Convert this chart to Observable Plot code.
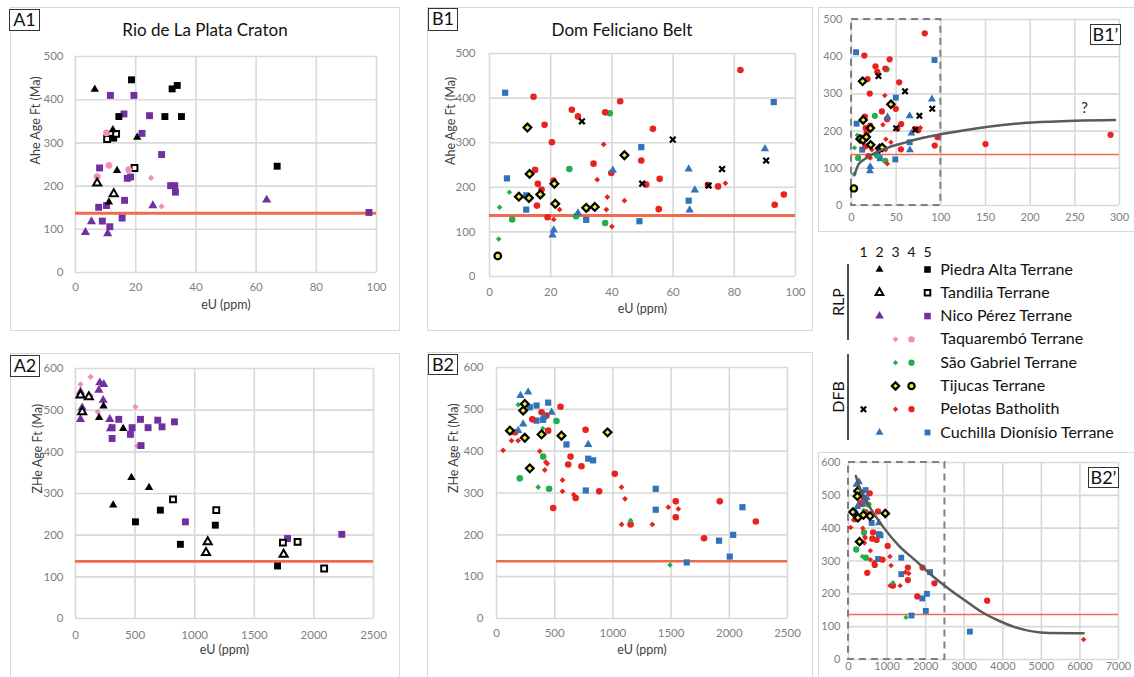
<!DOCTYPE html>
<html><head><meta charset="utf-8">
<script src="https://cdn.jsdelivr.net/npm/d3@7"></script>
<script src="https://cdn.jsdelivr.net/npm/@observablehq/plot@0.6"></script>
<style>
body{margin:0;background:#fff;font-family:Lato,"Open Sans",sans-serif;}
#root{position:relative;width:1134px;height:677px;overflow:hidden;background:#fff;}
.panel{position:absolute;border:1px solid #d9d9d9;box-sizing:border-box;}
.chart{position:absolute;}
.chart svg{overflow:visible;}
.lab{position:absolute;border:1px solid #333;background:#fff;font-size:18px;line-height:19px;box-sizing:border-box;text-align:center;color:#111;}
.title{position:absolute;font-size:17px;color:#111;transform:translateX(-50%);white-space:nowrap;}
</style></head>
<body><div id="root"></div>
<script>
// ---------- reference lines / ticks ----------
const REF_AGE = 137;
const tick100 = [0,20,40,60,80,100];
const tick500 = [0,100,200,300,400,500];
const tick600 = [0,100,200,300,400,500,600];
const tick2500 = [0,500,1000,1500,2000,2500];
const tick300 = [0,50,100,150,200,250,300];
const tick7000 = [0,1000,2000,3000,4000,5000,6000,7000];

// ---------- A1: Rio de La Plata Craton, AHe age vs eU ----------
const A1_PA_sq = [[18.6,446],[32.1,425],[33.8,433],[29.7,361],[35.2,361],[14.4,361],[12.7,311],[67,246]];
const A1_PA_tri = [[6.4,424],[12.4,330],[20.5,313],[13.8,236],[11.1,163]];
const A1_TA_sq = [[10.5,309],[13.5,321],[19.6,242]];
const A1_TA_tri = [[7.2,207],[12.7,182]];
const A1_NP_sq = [[11.6,410],[19.4,410],[16.1,367],[24.6,363],[22.1,322],[8,242],[28.6,273],[17.2,218],[18.3,221],[31.6,201],[33,201],[33.2,186],[16.3,167],[7.7,151],[10.3,155],[8.9,119],[11.4,106],[15.5,126],[97.5,139]];
const A1_NP_tri = [[3.3,93],[5.3,118],[10.7,90],[25.7,155],[63.5,168]];
const A1_TQ_dia = [[25.1,219],[28.6,153]];
const A1_TQ_cir = [[10.3,323],[11.1,248],[7.2,222],[17.7,238]];

// ---------- A2: Rio de La Plata Craton, ZHe age vs eU ----------
const A2_PA_sq = [[503,232],[712,260],[880,178],[1173,224],[1695,126]];
const A2_PA_tri = [[235,510],[198,482],[400,456],[316,272],[469,338],[617,314]];
const A2_TA_sq = [[818,286],[1181,260],[1740,182],[1863,184],[2086,120]];
const A2_TA_tri = [[42,536],[112,532],[56,496],[1109,184],[1095,158],[1746,154]];
const A2_NP_sq = [[363,478],[307,458],[307,432],[475,458],[461,442],[545,478],[609,458],[690,476],[726,460],[830,472],[550,415],[922,232],[1779,192],[2234,202]];
const A2_NP_tri = [[42,544],[56,506],[42,478],[196,548],[204,566],[237,562],[232,524],[288,478],[293,456]];
const A2_TQ_dia = [[42,562],[126,580],[131,534],[187,496],[503,508],[517,414]];

// ---------- B1: Dom Feliciano Belt, AHe age vs eU ----------
const B1_PB_cir = [[14.4,403],[42.7,393],[82,463],[26.9,374],[28.9,359],[37.8,368],[18,340],[53.4,331],[20.4,301],[14.9,239],[15.8,208],[17,195],[20.9,215],[34,253],[49.6,260],[39.8,232],[51.2,206],[55.6,219],[71.4,205],[74.7,202],[96.2,184],[93.2,161],[55.3,151],[15.5,159],[19,133],[31.8,152]];
const B1_PB_dia = [[35.2,217],[37.3,296],[38.5,178],[38.2,150],[40,112],[44.1,170],[21,128],[22.9,150],[77.1,209]];
const B1_PB_x = [[30.2,348],[59.9,307],[76,241],[90.4,260],[49.9,208],[71.6,204]];
const B1_SG_cir = [[26.1,241],[7.4,128],[28.3,135],[37.8,120],[39.3,366]];
const B1_SG_dia = [[6.5,189],[3.3,155],[3.0,84]];
const B1_TJ_dia = [[12.4,334],[13.1,230],[9.6,179],[12.9,176],[16.6,184],[21.2,208],[21.5,163],[31.6,154],[34.4,156],[44.1,272]];
const B1_TJ_cir = [[2.7,46]];
const B1_CD_sq = [[5.1,412],[5.7,220],[12,150],[12,182],[31.6,127],[49,124],[49.6,290],[65.1,170],[92.9,391]];
const B1_CD_tri = [[21,104],[20.6,93],[40.3,238],[28.9,142],[65.1,241],[67.1,194],[65.4,149],[90,286]];
// extra points only visible in B1' (wider eU range), trend curve and its note
const B1p_PB_cir = [[150,165],[290,190]];
const B1p_curve = [[3.7,84],[8,111],[15,125],[27,142],[40,155],[60,169],[80,182],[101,192],[153,212],[202,223],[250,228],[295,230]];
const B1p_box = [0,100,0,500];
const B1p_note = [[261,262,"?"]];

// ---------- B2: Dom Feliciano Belt, ZHe age vs eU ----------
const B2_PB_cir = [[550,506],[765,451],[444,449],[387,493],[430,485],[307,476],[636,387],[616,368],[730,364],[1016,346],[882,304],[680,288],[487,264],[1918,280],[2228,232],[1783,192],[1540,280],[1540,242],[135,446],[160,445],[1152,225]];
const B2_PB_dia = [[57,402],[129,425],[186,425],[372,400],[415,355],[436,370],[567,331],[567,304],[664,296],[1074,314],[1104,286],[1075,225],[1339,225],[1476,266],[1562,262],[424,374]];
const B2_SG_cir = [[200,335],[452,310],[515,472],[401,387]];
const B2_SG_dia = [[186,511],[358,314],[1491,128],[1152,234],[398,454]];
const B2_TJ_dia = [[115,449],[243,432],[286,359],[387,440],[558,437],[954,445],[243,513],[229,497]];
const B2_CD_sq = [[444,516],[344,509],[286,505],[344,473],[401,475],[601,416],[788,382],[830,378],[767,306],[1368,310],[1368,260],[1634,134],[1912,186],[2033,200],[2004,148],[2113,266]];
const B2_CD_tri = [[206,533],[272,541],[229,465],[186,449],[473,493],[407,482],[788,416]];
const B2p_PB_cir = [[3595,179]];
const B2p_CD_sq = [[3147,85]];
const B2p_PB_dia = [[6095,61]];
const B2p_curve = [[190,559],[300,520],[534,468],[879,407],[1310,346],[1741,301],[2172,255],[2603,215],[3034,179],[3465,144],[3896,118],[4327,98],[5189,81],[6095,80]];
const B2p_box = [0,2500,0,600];

// ---------- legend ----------
const legendCols = [1,2,3,4,5];
const legendRows = ["Piedra Alta Terrane","Tandilia Terrane","Nico Pérez Terrane","Taquarembó Terrane","São Gabriel Terrane","Tijucas Terrane","Pelotas Batholith","Cuchilla Dionísio Terrane"];
const legendEntries = [
  [0,2,"PA_tri"],[0,5,"PA_sq"],
  [1,2,"TA_tri"],[1,5,"TA_sq"],
  [2,2,"NP_tri"],[2,5,"NP_sq"],
  [3,3,"TQ_dia"],[3,4,"TQ_cir"],
  [4,3,"SG_dia"],[4,4,"SG_cir"],
  [5,3,"TJ_dia"],[5,4,"TJ_cir"],
  [6,1,"PB_x"],[6,3,"PB_dia"],[6,4,"PB_cir"],
  [7,2,"CD_tri"],[7,5,"CD_sq"]
];

// ---------- styles ----------
const C = {black:"#000", purple:"#7030A0", pink:"#F08DB9", green:"#22AE4A", yellow:"#F3EC3A", red:"#E8231F", blue:"#3073B8"};
const STYLE = {
  PA_sq:{symbol:"square", fill:C.black, r:3.9},
  PA_tri:{symbol:"triangle", fill:C.black, r:3.1},
  TA_sq:{symbol:"square", fill:"#fff", stroke:C.black, sw:2, r:3.3},
  TA_tri:{symbol:"triangle", fill:"#fff", stroke:C.black, sw:2, r:3},
  NP_sq:{symbol:"square", fill:C.purple, r:3.9},
  NP_tri:{symbol:"triangle", fill:C.purple, r:3.4},
  TQ_dia:{symbol:"diamond2", fill:C.pink, r:2.8},
  TQ_cir:{symbol:"circle", fill:C.pink, r:3.4},
  SG_dia:{symbol:"diamond2", fill:C.green, r:2.5},
  SG_cir:{symbol:"circle", fill:C.green, r:3.3},
  TJ_dia:{symbol:"diamond2", fill:C.yellow, stroke:C.black, sw:2.2, r:3.5},
  TJ_cir:{symbol:"circle", fill:C.yellow, stroke:C.black, sw:2.2, r:3.3},
  PB_x:{symbol:"times", fill:"none", stroke:C.black, sw:2.2, r:2.7},
  PB_dia:{symbol:"diamond2", fill:C.red, r:2.6},
  PB_cir:{symbol:"circle", fill:C.red, r:3.3},
  CD_tri:{symbol:"triangle", fill:C.blue, r:3.1},
  CD_sq:{symbol:"square", fill:C.blue, r:3.5}
};
const GRID = "#d9d9d9", TICK = "#7f7f7f", REDLINE = "#F26A4E", FONT = "Lato, 'Open Sans', sans-serif";
const plain = d => String(d);

function dots(key, data, scale = 1) {
  const s = STYLE[key];
  return Plot.dot(data, {x: d => d[0], y: d => d[1], symbol: s.symbol, r: s.r * scale,
    fill: s.fill, stroke: s.stroke || "none", strokeWidth: s.sw || 0});
}

const root = document.getElementById("root");
function place(el, left, top) { el.style.left = left + "px"; el.style.top = top + "px"; }
function addDiv(cls, left, top, w, h, text) {
  const d = document.createElement("div"); d.className = cls; place(d, left, top);
  if (w != null) d.style.width = w + "px"; if (h != null) d.style.height = h + "px";
  if (text != null) d.textContent = text; root.appendChild(d); return d;
}

function panel(cfg) {
  const marks = [
    Plot.gridX(cfg.xTicks, {stroke: GRID, strokeOpacity: 1, strokeWidth: cfg.gridW || 1.6}),
    Plot.gridY(cfg.yTicks, {stroke: GRID, strokeOpacity: 1, strokeWidth: cfg.gridW || 1.6})
  ];
  if (cfg.box) marks.push(Plot.rect([cfg.box], {x1: d => d[0], x2: d => d[1], y1: d => d[2], y2: d => d[3],
    fill: "none", stroke: "#808080", strokeWidth: 2, strokeDasharray: "7,5"}));
  marks.push(Plot.ruleY([REF_AGE], {stroke: REDLINE, strokeWidth: cfg.redW}));
  for (const [key, data] of cfg.series) marks.push(dots(key, data, cfg.symScale || 1));
  if (cfg.curve) marks.push(Plot.line(cfg.curve, {x: d => d[0], y: d => d[1], stroke: "#5a5a5a", strokeWidth: 2.5, curve: "monotone-x"}));
  if (cfg.note) marks.push(Plot.text(cfg.note, {x: d => d[0], y: d => d[1], text: d => d[2], fontSize: 15, fill: "#222"}));
  marks.push(Plot.axisX(cfg.xTicks, {tickSize: 0, tickPadding: cfg.xPad, color: TICK, label: null, fontSize: cfg.fs, tickFormat: plain}));
  marks.push(Plot.axisY(cfg.yTicks, {tickSize: 0, tickPadding: cfg.yPad, color: TICK, label: null, fontSize: cfg.fs, tickFormat: plain}));
  if (cfg.xLabel) marks.push(Plot.text([cfg.xLabel], {text: d => d, frameAnchor: "bottom", dy: cfg.xLabOff, fontSize: 12.5, fill: "#404040"}));
  if (cfg.yLabel) marks.push(Plot.text([cfg.yLabel], {text: d => d, frameAnchor: "left", dx: -cfg.yLabOff, rotate: -90, fontSize: 12.5, fill: "#404040"}));
  const svg = Plot.plot({
    width: cfg.w, height: cfg.h,
    marginLeft: cfg.ml, marginRight: cfg.mr, marginTop: cfg.mt, marginBottom: cfg.mb,
    x: {domain: cfg.xDomain}, y: {domain: cfg.yDomain},
    style: {fontFamily: FONT, fontSize: (cfg.fs || 11.5) + "px", background: "transparent", overflow: "visible"},
    marks
  });
  const holder = document.createElement("div"); holder.className = "chart";
  place(holder, cfg.left, cfg.top); holder.appendChild(svg); root.appendChild(holder);
}

// panel frames
addDiv("panel", 10, 7, 390, 324);
addDiv("panel", 10, 353, 390, 330);
addDiv("panel", 427, 7, 386, 324);
addDiv("panel", 427, 352, 386, 330);
addDiv("panel", 818, 7, 330, 225);
addDiv("panel", 818, 452, 330, 230);

// A1
panel({left: 10, top: 7, w: 390, h: 324, ml: 65, mr: 24, mt: 49, mb: 59,
  xDomain: [0,100], yDomain: [0,500], xTicks: tick100, yTicks: tick500,
  xPad: 10, yPad: 12, redW: 3, fs: 11.5, xLabel: "eU (ppm)", xLabOff: 36, yLabel: "Ahe Age Ft (Ma)", yLabOff: 40,
  series: [["NP_sq",A1_NP_sq],["PA_sq",A1_PA_sq],["TA_sq",A1_TA_sq],["TQ_cir",A1_TQ_cir],["TQ_dia",A1_TQ_dia],["NP_tri",A1_NP_tri],["PA_tri",A1_PA_tri],["TA_tri",A1_TA_tri]]});
// A2
panel({left: 10, top: 353, w: 390, h: 322, ml: 65, mr: 27, mt: 15, mb: 57,
  xDomain: [0,2500], yDomain: [0,600], xTicks: tick2500, yTicks: tick600,
  xPad: 12, yPad: 12, redW: 2.6, fs: 11.5, xLabel: "eU (ppm)", xLabOff: 35, yLabel: "ZHe Age Ft (Ma)", yLabOff: 38,
  series: [["TQ_dia",A2_TQ_dia],["NP_sq",A2_NP_sq],["PA_sq",A2_PA_sq],["TA_sq",A2_TA_sq],["NP_tri",A2_NP_tri],["PA_tri",A2_PA_tri],["TA_tri",A2_TA_tri]]});

const B1series = [["CD_sq",B1_CD_sq],["SG_cir",B1_SG_cir],["PB_cir",B1_PB_cir],["PB_dia",B1_PB_dia],["SG_dia",B1_SG_dia],["CD_tri",B1_CD_tri],["TJ_cir",B1_TJ_cir],["TJ_dia",B1_TJ_dia],["PB_x",B1_PB_x]];
const B2series = [["CD_sq",B2_CD_sq],["SG_cir",B2_SG_cir],["PB_cir",B2_PB_cir],["PB_dia",B2_PB_dia],["SG_dia",B2_SG_dia],["CD_tri",B2_CD_tri],["TJ_dia",B2_TJ_dia]];
// B1
panel({left: 427, top: 7, w: 386, h: 324, ml: 62, mr: 18, mt: 46, mb: 55,
  xDomain: [0,100], yDomain: [0,500], xTicks: tick100, yTicks: tick500,
  xPad: 11, yPad: 14, redW: 3, fs: 11.5, xLabel: "eU (ppm)", xLabOff: 36, yLabel: "Ahe Age Ft (Ma)", yLabOff: 39,
  series: B1series});
// B2
panel({left: 427, top: 352, w: 386, h: 324, ml: 69, mr: 26, mt: 15, mb: 58,
  xDomain: [0,2500], yDomain: [0,600], xTicks: tick2500, yTicks: tick600,
  xPad: 10, yPad: 13, redW: 2.6, fs: 11.5, xLabel: "eU (ppm)", xLabOff: 35, yLabel: "ZHe Age Ft (Ma)", yLabOff: 43,
  series: B2series});
// B1'
panel({left: 818, top: 7, w: 316, h: 225, ml: 33, mr: 15, mt: 12, mb: 27,
  xDomain: [0,300], yDomain: [0,500], xTicks: tick300, yTicks: tick500,
  xPad: 8, yPad: 9, redW: 1.6, fs: 11, box: B1p_box, curve: B1p_curve, note: B1p_note, symScale: 0.95,
  series: B1series.concat([["PB_cir",B1p_PB_cir]])});
// B2'
panel({left: 818, top: 452, w: 316, h: 225, ml: 30, mr: 16, mt: 10, mb: 18,
  xDomain: [0,7000], yDomain: [0,600], xTicks: tick7000, yTicks: tick600,
  xPad: 3, yPad: 8, redW: 1.6, fs: 11, box: B2p_box, curve: B2p_curve, symScale: 0.95,
  series: B2series.concat([["PB_cir",B2p_PB_cir],["CD_sq",B2p_CD_sq],["PB_dia",B2p_PB_dia]])});

// Legend
(function legend() {
  const marks = [
    Plot.text(legendCols, {x: d => d, y: -0.72, text: d => String(d), fontSize: 14, fill: "#111"}),
    ...legendEntries.map(([row, col, key]) => {
      const s = STYLE[key];
      return Plot.dot([[col,row]], {x: d => d[0], y: d => d[1], symbol: s.symbol, r: s.r * 0.95,
        fill: s.fill, stroke: s.stroke || "none", strokeWidth: s.sw || 0});
    }),
    Plot.text(legendRows, {x: 5.8, y: (d, i) => i, text: d => d, textAnchor: "start", fontSize: 16, fill: "#111"})
  ];
  const svg = Plot.plot({width: 316, height: 210, margin: 0,
    x: {domain: [1,5], range: [45,109], axis: null}, y: {domain: [0,7], range: [29,192], axis: null},
    style: {fontFamily: FONT, background: "transparent", overflow: "visible"}, marks});
  const holder = document.createElement("div"); holder.className = "chart"; place(holder, 818, 240);
  holder.appendChild(svg); root.appendChild(holder);
  // group brackets
  const ns = "http://www.w3.org/2000/svg";
  const g = document.createElementNS(ns, "svg");
  g.setAttribute("width", 40); g.setAttribute("height", 210);
  g.style.position = "absolute"; g.style.left = "818px"; g.style.top = "240px";
  const groups = [["RLP", 24, 100], ["DFB", 114, 200]];
  for (const [t, y1, y2] of groups) {
    const l = document.createElementNS(ns, "line");
    l.setAttribute("x1", 30); l.setAttribute("x2", 30); l.setAttribute("y1", y1); l.setAttribute("y2", y2);
    l.setAttribute("stroke", "#222"); l.setAttribute("stroke-width", 1.6); g.appendChild(l);
    const tx = document.createElementNS(ns, "text");
    const cy = (y1 + y2) / 2;
    tx.setAttribute("transform", `translate(19,${cy}) rotate(-90)`);
    tx.setAttribute("text-anchor", "middle"); tx.setAttribute("dominant-baseline", "central");
    tx.setAttribute("font-size", 16); tx.setAttribute("font-family", FONT); tx.setAttribute("fill", "#111");
    tx.textContent = t; g.appendChild(tx);
  }
  root.appendChild(g);
})();

// Titles and panel labels
addDiv("title", 205, 19, null, null, "Rio de La Plata Craton");
addDiv("title", 622, 19, null, null, "Dom Feliciano Belt");
addDiv("lab", 9, 9, 31, 22, "A1");
addDiv("lab", 10, 355, 30, 22, "A2");
addDiv("lab", 428, 8, 30, 23, "B1");
addDiv("lab", 428, 354, 30, 21, "B2");
addDiv("lab", 1090, 24, 31, 21, "B1\u2019");
addDiv("lab", 1088, 467, 31, 21, "B2\u2019");
</script></body></html>
